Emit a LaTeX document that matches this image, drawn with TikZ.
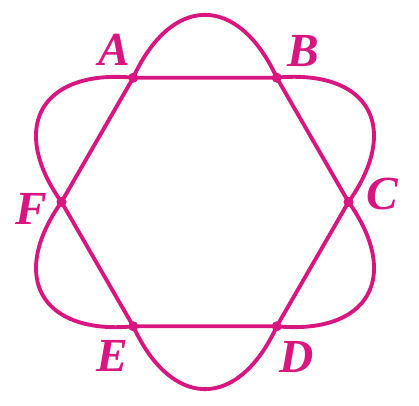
\documentclass[tikz,border=0pt]{standalone}
\usepackage{fontspec}
\setmainfont{Liberation Serif}
\usetikzlibrary{positioning}
\definecolor{hexpink}{RGB}{216,22,128}

\begin{document}
\begin{tikzpicture}
	[curve/.style={draw=hexpink, line width=2.2pt},
	 dot/.style={circle, fill=hexpink, inner sep=0pt, minimum size=0.2cm},
	 letter/.style={text=hexpink, inner sep=0pt, font=\fontsize{27}{30}\selectfont\bfseries\itshape},
	 lobe/.style={start angle=41.6, end angle=138.4, x radius=1.92, y radius=3.74}]
	\useasboundingbox (-4.1,-4.08) rectangle (4.28,4.04);
	% points of the hexagon
	\foreach \n/\a in {A/120,B/60,C/0,D/300,E/240,F/180}
		\node[dot] (\n) at (\a:2.87) {};
	% outer parts of the three ellipses
	\foreach \p/\r in {B/0,A/60,F/120,E/180,D/240,C/300}
		\draw[curve, rotate=\r] (\p.center) arc [lobe];
	\draw[curve, line join=round] (A.center) -- (B.center) -- (C.center) -- (D.center) -- (E.center) -- (F.center) -- cycle;
	% labels
	\node[letter] (la) at (-1.82,3.04) {A};
	\node[letter] (lb) at (1.96,3.02) {B};
	\node[letter] (lc) at (3.54,0.16) {C};
	\node[letter] (ld) at (1.84,-3.10) {D};
	\node[letter] (le) at (-1.86,-3.08) {E};
	\node[letter] (lf) at (-3.48,-0.14) {F};
\end{tikzpicture}
\end{document}
